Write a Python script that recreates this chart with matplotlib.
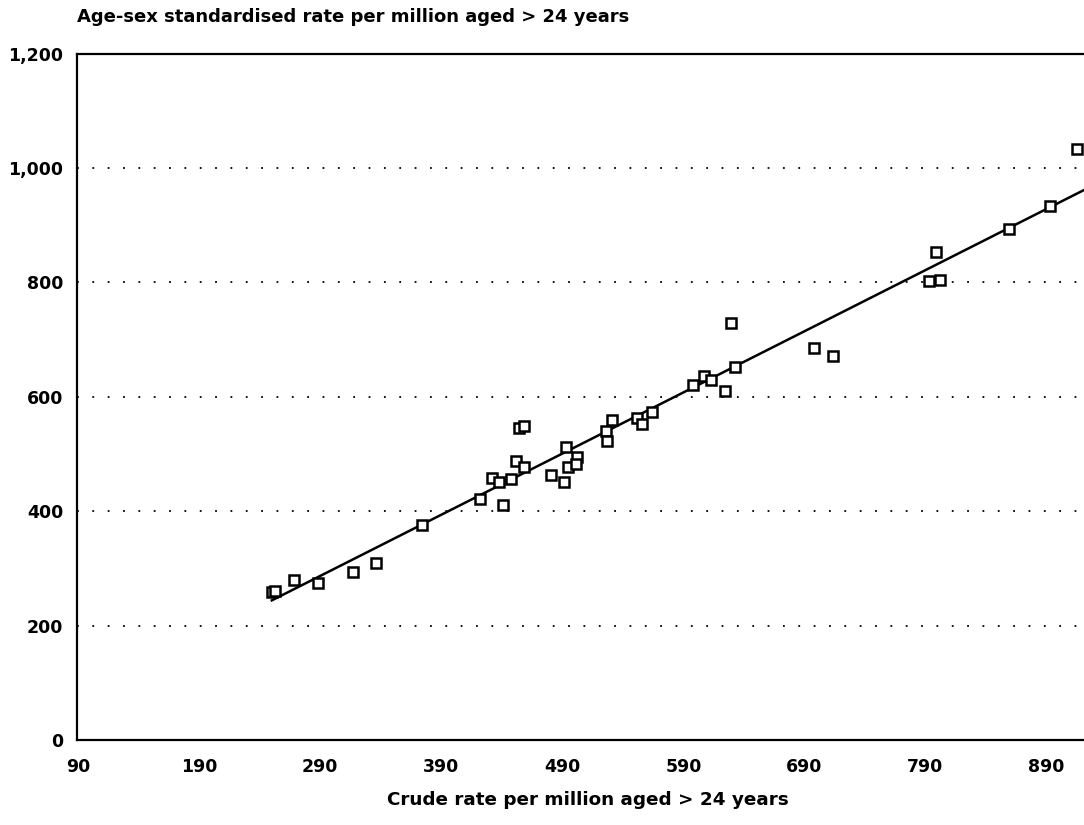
import numpy as np
import matplotlib
matplotlib.use("Agg")
import matplotlib.pyplot as plt

# crude rate vs age-sex standardised rate (per million aged > 24 years)
crude = [250, 253, 268, 288, 317, 336, 374, 422, 432, 438, 441, 448, 452,
         458, 454, 458, 481, 491, 493, 495, 502, 501, 526, 527, 531, 552,
         556, 564, 598, 607, 613, 624, 629, 633, 698, 714, 793, 802, 799,
         859, 893, 915]
standardised = [258, 261, 279, 275, 294, 310, 376, 422, 458, 451, 411, 457,
                488, 478, 546, 549, 464, 451, 513, 478, 495, 483, 541, 523,
                560, 563, 553, 574, 621, 637, 630, 610, 729, 652, 686, 672,
                803, 804, 853, 893, 934, 1033]

x_ticks = [90, 190, 290, 390, 490, 590, 690, 790, 890]
y_ticks = [0, 200, 400, 600, 800, 1000, 1200]
y_tick_labels = ["0", "200", "400", "600", "800", "1,000", "1,200"]

plt.rcParams["font.family"] = ["DejaVu Sans"]
plt.rcParams["font.weight"] = "bold"


def main():
    fig = plt.figure(figsize=(10.84, 8.25), dpi=100)
    ax = fig.add_axes([0.071, 0.103, 0.929, 0.832])

    # least-squares line through the points
    slope, intercept = np.polyfit(crude, standardised, 1)
    lx = np.array([min(crude), 930])
    ax.plot(lx, slope * lx + intercept, color="black", lw=1.8, zorder=3)

    ax.plot(crude, standardised, linestyle="none", marker="s", ms=7,
            mfc="white", mec="black", mew=1.8, zorder=4)

    for y in y_ticks[1:-1]:
        ax.axhline(y, color="black", lw=1.3, linestyle=(0, (1, 7.5)), zorder=1)

    ax.set_xlim(89, 921)
    ax.set_ylim(0, 1200)
    ax.set_xticks(x_ticks)
    ax.set_yticks(y_ticks)
    ax.set_yticklabels(y_tick_labels)
    ax.tick_params(axis="both", length=0, labelsize=12.5)
    ax.tick_params(axis="y", pad=10)
    ax.tick_params(axis="x", pad=13)
    for lab in ax.get_xticklabels() + ax.get_yticklabels():
        lab.set_fontweight("bold")

    ax.spines["right"].set_visible(False)
    for s in ["left", "bottom", "top"]:
        ax.spines[s].set_linewidth(1.6)

    fig.text(0.071, 0.979, "Age-sex standardised rate per million aged > 24 years",
             fontsize=13, fontweight="bold", va="center", ha="left")
    fig.text(0.542, 0.03, "Crude rate per million aged > 24 years",
             fontsize=13.2, fontweight="bold", va="center", ha="center")

    fig.savefig("out.png", dpi=100)
    plt.close("all")


if __name__ == "__main__":
    main()
